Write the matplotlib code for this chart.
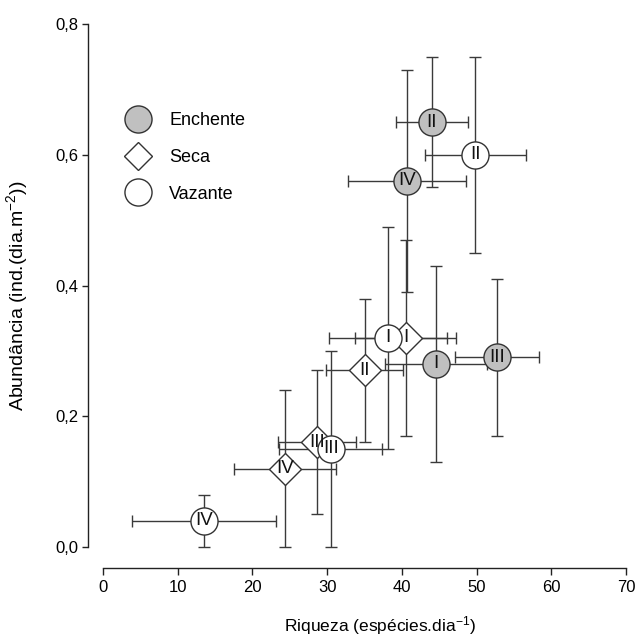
import matplotlib
matplotlib.use("Agg")
import matplotlib.pyplot as plt
from matplotlib.lines import Line2D
from matplotlib.ticker import FuncFormatter

plt.rcParams['font.family'] = ['Liberation Sans', 'DejaVu Sans']
plt.rcParams['mathtext.default'] = 'regular'

# riqueza (x) e abundancia (y) por periodo hidrologico, com desvios
labels = ["I", "II", "III", "IV"]

enchente_x = [44.6, 44.0, 52.7, 40.7]
enchente_y = [0.28, 0.65, 0.29, 0.56]
enchente_xerr = [6.8, 4.8, 5.6, 7.9]
enchente_yerr = [0.15, 0.10, 0.12, 0.17]

seca_x = [40.5, 35.0, 28.6, 24.4]
seca_y = [0.32, 0.27, 0.16, 0.12]
seca_xerr = [6.8, 5.1, 5.2, 6.8]
seca_yerr = [0.15, 0.11, 0.11, 0.12]

vazante_x = [38.1, 49.8, 30.5, 13.5]
vazante_y = [0.32, 0.60, 0.15, 0.04]
vazante_xerr = [7.9, 6.75, 6.9, 9.6]
vazante_yerr = [0.17, 0.15, 0.15, 0.04]

series = [
    ("Enchente", enchente_x, enchente_y, enchente_xerr, enchente_yerr, "o", 19.5, "#c0c0c0"),
    ("Seca", seca_x, seca_y, seca_xerr, seca_yerr, "D", 16.5, "white"),
    ("Vazante", vazante_x, vazante_y, vazante_xerr, vazante_yerr, "o", 19.5, "white"),
]

W, H = 637, 644
fig = plt.figure(figsize=(W / 100, H / 100), dpi=100)
ax = fig.add_axes([103 / W, (H - 547) / H, 523 / W, 523 / H])

edge = "#333333"
for name, xs, ys, xe, ye, mk, ms, fc in series:
    ax.errorbar(xs, ys, xerr=xe, yerr=ye, fmt="none", ecolor="#3a3a3a",
                elinewidth=1.0, capsize=4.3, capthick=1.0, zorder=2, clip_on=False)
for name, xs, ys, xe, ye, mk, ms, fc in series:
    for x, y, lab in zip(xs, ys, labels):
        ax.plot(x, y, marker=mk, ms=ms, mfc=fc, mec=edge, mew=1.0,
                linestyle="none", zorder=3, clip_on=False)
        ax.text(x, y, lab, ha="center", va="center", fontsize=13.5,
                color="#111111", zorder=4)

ax.set_xlim(0, 70)
ax.set_ylim(0, 0.8)
ax.set_xticks(range(0, 71, 10))
ax.set_yticks([0, 0.2, 0.4, 0.6, 0.8])
ax.yaxis.set_major_formatter(FuncFormatter(lambda v, p: f"{v:.1f}".replace(".", ",")))

for s in ("top", "right"):
    ax.spines[s].set_visible(False)
ax.spines["left"].set_position(("outward", 10.8))
ax.spines["bottom"].set_position(("outward", 15))
ax.spines["left"].set_bounds(0, 0.8)
ax.spines["bottom"].set_bounds(0, 70)
for s in ("left", "bottom"):
    ax.spines[s].set_color("#222222")
    ax.spines[s].set_linewidth(1.0)
ax.tick_params(axis="x", direction="out", length=5, width=1, labelsize=12,
               color="#222222", pad=4)
ax.tick_params(axis="y", direction="out", length=4, width=1, labelsize=12,
               color="#222222", pad=3)

ax.set_xlabel("Riqueza (espécies.dia$^{-1}$)", fontsize=12.5)
ax.set_ylabel("Abundância (ind.(dia.m$^{-2}$))", fontsize=14)
ax.xaxis.set_label_coords(0.53, -0.128)
ax.yaxis.set_label_coords(-0.14, 0.48)

handles = [
    Line2D([], [], marker="o", ms=19.5, mfc="#c0c0c0", mec=edge, mew=1.0, linestyle="none"),
    Line2D([], [], marker="D", ms=14.5, mfc="white", mec=edge, mew=1.0, linestyle="none"),
    Line2D([], [], marker="o", ms=19.5, mfc="white", mec=edge, mew=1.0, linestyle="none"),
]
ax.legend(handles, [s[0] for s in series], loc="upper left",
          bbox_to_anchor=(115 / W, (H - 103) / H), bbox_transform=fig.transFigure,
          frameon=False, fontsize=13, labelspacing=1.1, handletextpad=0.9,
          borderpad=0, handlelength=1.6)

fig.savefig("out.png", dpi=100)
